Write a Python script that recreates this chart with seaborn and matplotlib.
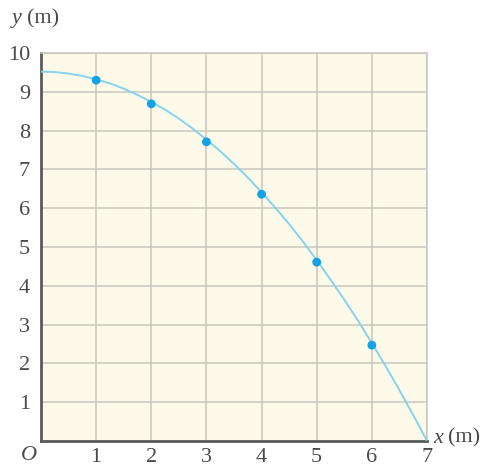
import matplotlib
matplotlib.use("Agg")
import matplotlib.pyplot as plt
import seaborn as sns
import pandas as pd

# measured points
x_pts = [1, 2, 3, 4, 5, 6]
y_pts = [9.30, 8.69, 7.71, 6.36, 4.61, 2.47]

# the smooth trajectory
x_curve = [0, 0.25, 0.5, 0.75, 1, 1.25, 1.5, 1.75, 2, 2.25, 2.5, 2.75, 3, 3.25, 3.5,
           3.75, 4, 4.25, 4.5, 4.75, 5, 5.25, 5.5, 5.75, 6, 6.25, 6.5, 6.75, 7]
y_curve = [9.52, 9.51, 9.47, 9.41, 9.32, 9.22, 9.08, 8.92, 8.74, 8.54, 8.31, 8.05, 7.77,
           7.47, 7.14, 6.79, 6.41, 6.01, 5.59, 5.14, 4.66, 4.16, 3.64, 3.10, 2.52, 1.93,
           1.31, 0.67, 0.0]

x_ticks = [1, 2, 3, 4, 5, 6, 7]
y_ticks = [1, 2, 3, 4, 5, 6, 7, 8, 9, 10]

sns.set_theme(style="white")
plt.rcParams['font.family'] = ['Liberation Serif', 'DejaVu Serif']

txt = '#4a4a4a'
fig = plt.figure(figsize=(4.92, 4.69), dpi=100)
ax = fig.add_axes([41 / 492, 28 / 469, 386 / 492, 388 / 469])
ax.set_facecolor('#fdfaea')

df_c = pd.DataFrame({'x': x_curve, 'y': y_curve})
df_p = pd.DataFrame({'x': x_pts, 'y': y_pts})
sns.lineplot(data=df_c, x='x', y='y', ax=ax, color='#86d3ee', linewidth=1.4, zorder=3)
sns.scatterplot(data=df_p, x='x', y='y', ax=ax, color='#12a3e6', s=40,
                edgecolor='none', zorder=4)

ax.set_xlim(0, 7)
ax.set_ylim(0, 10)
ax.grid(True, color='#c9c7bd', linewidth=1.1)
ax.set_axisbelow(True)
ax.tick_params(length=0, labelsize=16, colors=txt)
ax.set_xticks([0] + x_ticks)
ax.set_xticklabels([''] + [str(v) for v in x_ticks])
ax.set_yticks([0] + y_ticks)
ax.set_yticklabels([''] + [str(v) for v in y_ticks])
ax.tick_params(axis='x', pad=5)
ax.tick_params(axis='y', pad=8)
ax.set_xlabel('')
ax.set_ylabel('')

for side in ['top', 'right']:
    ax.spines[side].set_color('#c9c7bd')
    ax.spines[side].set_linewidth(1.1)
for side in ['left', 'bottom']:
    ax.spines[side].set_color('#5a5a5a')
    ax.spines[side].set_linewidth(2)

ax.text(-0.08, -0.12, 'O', ha='right', va='top', fontsize=16, style='italic', color=txt)
fig.text(12 / 492, 1 - 19 / 469, 'y', fontsize=16, style='italic', color=txt,
         va='center', ha='left')
fig.text(27 / 492, 1 - 19 / 469, '(m)', fontsize=16, color=txt, va='center', ha='left')
fig.text(433 / 492, 1 - 438 / 469, 'x', fontsize=16, style='italic', color=txt,
         va='center', ha='left')
fig.text(448 / 492, 1 - 438 / 469, '(m)', fontsize=16, color=txt, va='center', ha='left')

fig.savefig('out.png', dpi=100)
